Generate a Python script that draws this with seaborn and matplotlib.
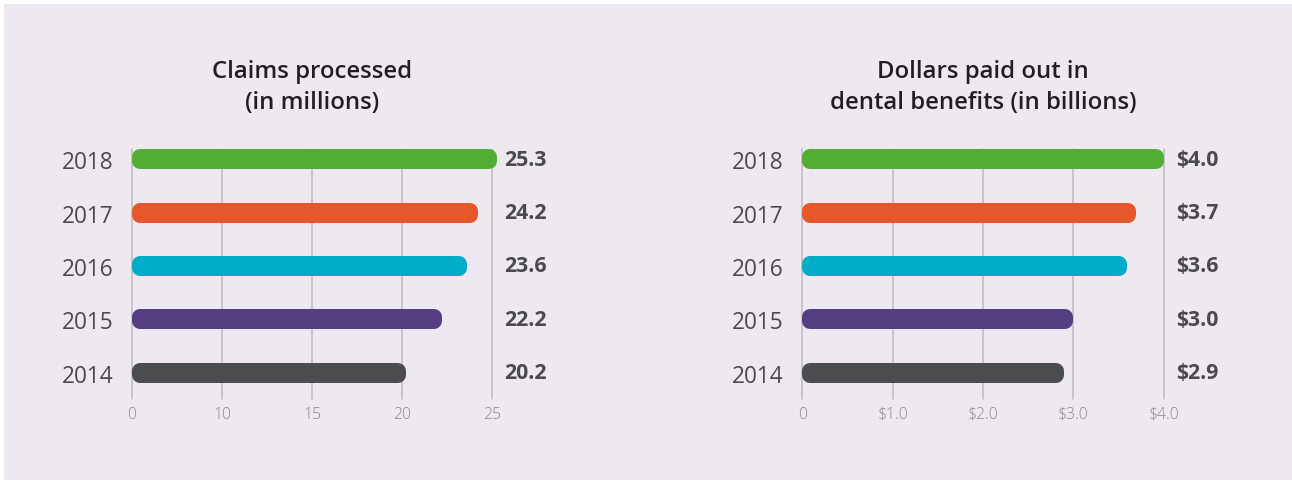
import matplotlib
matplotlib.use("Agg")
import matplotlib.pyplot as plt
import matplotlib.patches as mpatches
import seaborn as sns
import numpy as np
import pandas as pd

# data
years = ["2018", "2017", "2016", "2015", "2014"]
claims = [25.3, 24.2, 23.6, 22.2, 20.2]
dollars = [4.0, 3.7, 3.6, 3.0, 2.9]
claims_ticks = [0, 10, 15, 20, 25]
claims_ticklabels = ["0", "10", "15", "20", "25"]
dollar_ticks = [0, 1, 2, 3, 4]
dollar_ticklabels = ["0", "$1.0", "$2.0", "$3.0", "$4.0"]
bar_colors = ["#52AE32", "#E6582B", "#00ADC9", "#533E82", "#4B4C4E"]
titles = [("Claims processed", "(in millions)"),
          ("Dollars paid out in", "dental benefits (in billions)")]

sns.set_style("white")
plt.rcParams["font.family"] = ["Open Sans", "DejaVu Sans"]
plt.rcParams["path.simplify"] = False

BG = "#EEE9F1"
GRID = "#BFBBC4"
TXT = "#4A4A4D"
TICK = "#8A888E"
DPI = 100
W, H = 1292, 481

fig = plt.figure(figsize=(W / DPI, H / DPI), dpi=DPI, facecolor="white")
fig.patches.append(mpatches.Rectangle((4 / W, 0), 1, 1 - 5 / H, transform=fig.transFigure,
                                      facecolor=BG, edgecolor="none", zorder=-10))


# broken scale on the claims axis: 0-10 takes the same room as each 5-step above it
def fwd(x):
    x = np.asarray(x, dtype=float)
    return np.where(x <= 10, x / 10, 1 + (x - 10) / 5)


def inv(y):
    y = np.asarray(y, dtype=float)
    return np.where(y <= 1, y * 10, 10 + (y - 1) * 5)


panels = [
    dict(vals=claims, ticks=claims_ticks, labels=claims_ticklabels, left=132, width=360,
         fmt="{:.1f}", scale=True, title=titles[0]),
    dict(vals=dollars, ticks=dollar_ticks, labels=dollar_ticklabels, left=802.5, width=361,
         fmt="${:.1f}", scale=False, title=titles[1]),
]

bar_px = 20
edge_px = 16
for p in panels:
    ax = fig.add_axes([p["left"] / W, 81 / H, p["width"] / W, 250 / H])
    ax.set_facecolor("none")
    df = pd.DataFrame({"year": years, "value": p["vals"]})
    sns.barplot(data=df, x="value", y="year", hue="year", palette=bar_colors,
                order=years, orient="h", width=0.05, saturation=1, legend=False,
                ax=ax, zorder=3)
    if p["scale"]:
        ax.set_xscale("function", functions=(fwd, inv))
    ax.set_xlim(p["ticks"][0], p["ticks"][-1])
    ax.set_ylim(4.49, -0.19)
    ax.set_xticks(p["ticks"])
    ax.set_xticklabels(p["labels"])
    ax.set_xlabel("")
    ax.set_ylabel("")
    for s in ax.spines.values():
        s.set_visible(False)
    ax.tick_params(axis="both", length=0)
    ax.tick_params(axis="y", pad=13.5, labelsize=16.3, labelcolor=TXT)
    ax.tick_params(axis="x", pad=5, labelsize=11.3, labelcolor=TICK)
    for t in ax.get_xticklabels():
        t.set_fontweight("light")
    ax.grid(axis="x", color=GRID, linewidth=1.1)
    ax.grid(axis="y", visible=False)
    ax.set_axisbelow(True)
    for gl in ax.get_xgridlines():
        gl.set_clip_on(False)

    # turn the bars into pills: thin rectangle with a thick round-joined edge
    inv_t = ax.transData.inverted()
    for patch in ax.patches:
        yc = patch.get_y() + patch.get_height() / 2
        x_end = patch.get_x() + patch.get_width()
        d0 = ax.transData.transform((patch.get_x(), yc))
        d1 = ax.transData.transform((x_end, yc))
        x0 = inv_t.transform((d0[0] + edge_px / 2, d0[1]))[0]
        x1 = inv_t.transform((d1[0] - edge_px / 2, d1[1]))[0]
        y0 = inv_t.transform((d0[0], d0[1] + (bar_px - edge_px) / 2))[1]
        y1 = inv_t.transform((d0[0], d0[1] - (bar_px - edge_px) / 2))[1]
        fc = patch.get_facecolor()
        patch.set_x(x0)
        patch.set_width(x1 - x0)
        patch.set_y(min(y0, y1))
        patch.set_height(abs(y1 - y0))
        patch.set_edgecolor(fc)
        patch.set_linewidth(edge_px * 72 / DPI)
        patch.set_joinstyle("round")
        patch.set_clip_on(False)

    for i, v in enumerate(p["vals"]):
        ax.annotate(p["fmt"].format(v), xy=(1, i), xycoords=("axes fraction", "data"),
                    xytext=(9, 0), textcoords="offset points", ha="left", va="center",
                    fontsize=15.3, fontweight="bold", color=TXT)

    cx = (p["left"] + p["width"] / 2) / W
    fig.text(cx, 1 - 72 / H, p["title"][0], ha="center", va="center",
             fontsize=17.2, fontweight="semibold", color="#231F20")
    fig.text(cx, 1 - 103 / H, p["title"][1], ha="center", va="center",
             fontsize=17.2, fontweight="semibold", color="#231F20")

fig.savefig("out.png", dpi=DPI, facecolor=fig.get_facecolor())
